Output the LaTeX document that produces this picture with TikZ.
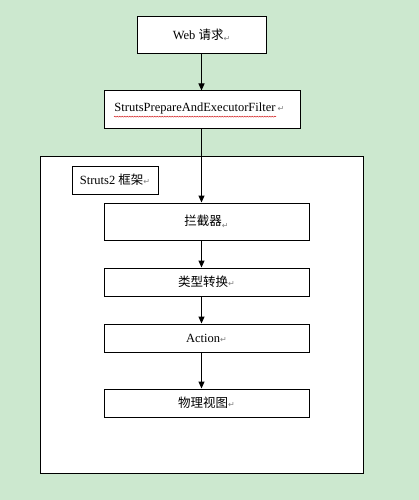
\documentclass[tikz,border=0pt]{standalone}
\usepackage{fontspec}
\setmainfont{Liberation Serif}
\newfontfamily\cjk{Noto Sans CJK SC}
\newfontfamily\symfont{DejaVu Sans}
\usetikzlibrary{arrows.meta,decorations.pathmorphing}
\definecolor{eyegreen}{RGB}{204,232,207}
\newcommand{\parmark}{{\symfont\color{gray}\fontsize{8}{8}\selectfont ↵}}
\begin{document}
\begin{tikzpicture}[x=1pt, y=-1pt, line width=1pt, >={Triangle[width=6pt,length=7pt]},
  box/.style={draw, fill=white, inner sep=0pt, minimum height=28pt, minimum width=205pt, font=\fontsize{12.5}{14}\selectfont},
  flow/.style={->, line width=1pt}]%
\fill[eyegreen] (0,0) rectangle (419,500);
\useasboundingbox (0,0) rectangle (419,500);
% outer part
\node[box, minimum width=129pt, minimum height=37pt] (web) at (201.5,35.5) {\raisebox{2pt}{Web {\cjk 请求}}\parmark};
\node[box, minimum width=196pt, minimum height=37pt] (filter) at (202,109.5) {};
\node[inner sep=0pt, font=\fontsize{12.5}{14}\selectfont] (filtertext) at (195,108.5) {StrutsPrepareAndExecutorFilter};
\node[anchor=west, inner sep=1pt] at (filtertext.east) {\parmark};
\draw[red!80!black, line width=0.4pt, decorate, decoration={snake, amplitude=0.5pt, segment length=2.5pt}]
  ([yshift=-2pt]filtertext.south west) -- ([yshift=-2pt]filtertext.south east);
% framework
\node[box, minimum width=323pt, minimum height=317pt] (frame) at (201.5,314.5) {};
\node[box, minimum width=86pt, minimum height=28pt] (fwlabel) at (115,180) {Struts2 {\cjk 框架}\parmark};
\node[box, minimum height=37pt] (intercept) at (206.5,221.5) {\raisebox{3pt}{\cjk 拦截器}\parmark};
\node[box] (convert) at (206.5,282) {{\cjk 类型转换}\parmark};
\node[box] (action) at (206.5,338) {Action\parmark};
\node[box] (view) at (206.5,403) {{\cjk 物理视图}\parmark};
% arrows
\draw[flow] (web.south) -- (filter.north -| web.south);
\draw[flow] (filter.south -| web.south) -- (intercept.north -| web.south);
\draw[flow] (intercept.south -| web.south) -- (convert.north -| web.south);
\draw[flow] (convert.south -| web.south) -- (action.north -| web.south);
\draw[flow] (action.south -| web.south) -- (view.north -| web.south);
\end{tikzpicture}
\end{document}
